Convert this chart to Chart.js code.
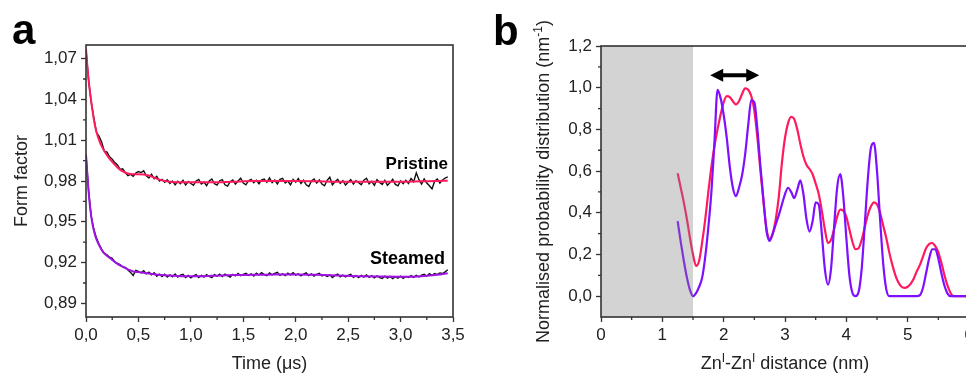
<!DOCTYPE html>
<html><head><meta charset="utf-8">
<script src="https://cdn.jsdelivr.net/npm/chart.js@4.4.1/dist/chart.umd.min.js"></script>
<style>
html,body{margin:0;padding:0;background:#fff;overflow:hidden;width:966px;height:373px;}
#wrapA{position:absolute;left:0;top:0;width:480px;height:373px;}
#wrapB{position:absolute;left:486px;top:0;width:500px;height:373px;}
canvas{display:block;}
</style></head><body>
<div id="wrapA"><canvas id="cA" width="480" height="373"></canvas></div>
<div id="wrapB"><canvas id="cB" width="500" height="373"></canvas></div>
<script>
// ---------- Panel a data ----------
const timeUs = [
0,0.025,0.05,0.075,0.1,0.125,0.15,0.175,0.2,0.225,
0.25,0.275,0.3,0.325,0.35,0.375,0.4,0.425,0.45,0.475,
0.5,0.525,0.55,0.575,0.6,0.625,0.65,0.675,0.7,0.725,
0.75,0.775,0.8,0.825,0.85,0.875,0.9,0.925,0.95,0.975,
1.0,1.025,1.05,1.075,1.1,1.125,1.15,1.175,1.2,1.225,
1.25,1.275,1.3,1.325,1.35,1.375,1.4,1.425,1.45,1.475,
1.5,1.525,1.55,1.575,1.6,1.625,1.65,1.675,1.7,1.725,
1.75,1.775,1.8,1.825,1.85,1.875,1.9,1.925,1.95,1.975,
2.0,2.025,2.05,2.075,2.1,2.125,2.15,2.175,2.2,2.225,
2.25,2.275,2.3,2.325,2.35,2.375,2.4,2.425,2.45,2.475,
2.5,2.525,2.55,2.575,2.6,2.625,2.65,2.675,2.7,2.725,
2.75,2.775,2.8,2.825,2.85,2.875,2.9,2.925,2.95,2.975,
3.0,3.025,3.05,3.075,3.1,3.125,3.15,3.175,3.2,3.225,
3.25,3.275,3.3,3.325,3.35,3.375,3.4,3.425,3.45];

const pristineData = [
1.0765,1.0540,1.0380,1.0262,1.0158,1.0128,1.0085,1.0020,1.0012,0.9978,
0.9960,0.9935,0.9918,0.9885,0.9890,0.9862,0.9840,0.9848,0.9835,0.9858,
0.9870,0.9862,0.9875,0.9838,0.9822,0.9850,0.9818,0.9835,0.9800,0.9812,
0.9790,0.9808,0.9782,0.9800,0.9772,0.9798,0.9780,0.9805,0.9770,0.9796,
0.9782,0.9768,0.9800,0.9812,0.9778,0.9792,0.9765,0.9800,0.9815,0.9780,
0.9770,0.9802,0.9810,0.9772,0.9762,0.9795,0.9808,0.9778,0.9800,0.9820,
0.9785,0.9772,0.9802,0.9812,0.9788,0.9805,0.9780,0.9808,0.9815,0.9790,
0.9822,0.9788,0.9806,0.9778,0.9812,0.9820,0.9785,0.9800,0.9772,0.9812,
0.9792,0.9818,0.9782,0.9805,0.9772,0.9760,0.9800,0.9815,0.9785,0.9808,
0.9778,0.9765,0.9805,0.9828,0.9772,0.9795,0.9812,0.9782,0.9802,0.9770,
0.9790,0.9810,0.9778,0.9802,0.9788,0.9772,0.9805,0.9820,0.9780,0.9798,
0.9768,0.9810,0.9790,0.9775,0.9805,0.9768,0.9788,0.9812,0.9775,0.9765,
0.9800,0.9780,0.9805,0.9782,0.9818,0.9795,0.9860,0.9810,0.9778,0.9815,
0.9785,0.9765,0.9742,0.9798,0.9815,0.9785,0.9808,0.9822,0.9830];

const steamedData = [
0.9995,0.9728,0.9540,0.9445,0.9380,0.9335,0.9298,0.9268,0.9258,0.9240,
0.9232,0.9205,0.9195,0.9185,0.9168,0.9165,0.9145,0.9128,0.9105,0.9142,
0.9135,0.9125,0.9140,0.9118,0.9130,0.9110,0.9125,0.9100,0.9115,0.9098,
0.9114,0.9094,0.9110,0.9096,0.9116,0.9094,0.9108,0.9114,0.9090,0.9106,
0.9088,0.9102,0.9112,0.9090,0.9106,0.9094,0.9112,0.9098,0.9090,0.9112,
0.9100,0.9115,0.9098,0.9116,0.9104,0.9094,0.9114,0.9102,0.9120,0.9104,
0.9114,0.9122,0.9106,0.9118,0.9102,0.9122,0.9108,0.9126,0.9112,0.9104,
0.9124,0.9110,0.9120,0.9128,0.9106,0.9118,0.9104,0.9122,0.9110,0.9126,
0.9108,0.9118,0.9102,0.9116,0.9124,0.9104,0.9117,0.9100,0.9114,0.9122,
0.9102,0.9110,0.9098,0.9110,0.9090,0.9106,0.9116,0.9096,0.9108,0.9094,
0.9106,0.9114,0.9092,0.9104,0.9090,0.9106,0.9094,0.9110,0.9092,0.9104,
0.9088,0.9102,0.9090,0.9084,0.9100,0.9086,0.9098,0.9082,0.9096,0.9086,
0.9100,0.9084,0.9098,0.9090,0.9104,0.9092,0.9106,0.9094,0.9108,0.9114,
0.9100,0.9118,0.9106,0.9120,0.9112,0.9124,0.9120,0.9132,0.9148];

const fitTime = [0,0.02,0.04,0.06,0.08,0.10,0.13,0.16,0.20,0.25,0.30,0.35,0.40,0.45,0.50,0.55,0.60,0.65,0.70,0.75,0.80,0.90,1.0,1.2,1.4,1.6,1.8,2.0,2.2,2.4,2.6,2.8,3.0,3.2,3.35,3.45];
const pristineFit = [1.077,1.058,1.044,1.033,1.023,1.016,1.009,1.004,0.999,0.994,0.990,0.987,0.9855,0.985,0.985,0.9848,0.984,0.9825,0.981,0.980,0.9795,0.979,0.979,0.979,0.9795,0.980,0.980,0.980,0.9798,0.9795,0.9795,0.9795,0.9795,0.9798,0.9800,0.9802];
const steamedFit = [0.9995,0.977,0.960,0.949,0.942,0.937,0.932,0.928,0.925,0.922,0.919,0.917,0.915,0.9135,0.913,0.9125,0.912,0.9115,0.911,0.9107,0.9105,0.910,0.910,0.9103,0.9108,0.911,0.9113,0.9113,0.911,0.9105,0.910,0.9097,0.9096,0.910,0.911,0.9122];

const xTicksA = [0,0.5,1.0,1.5,2.0,2.5,3.0,3.5];
const xMinorA = [0.25,0.75,1.25,1.75,2.25,2.75,3.25];
const yTicksA = [0.89,0.92,0.95,0.98,1.01,1.04,1.07];
const yMinorA = [0.905,0.935,0.965,0.995,1.025,1.055];

// ---------- Panel b data ----------
const distNm = [
1.25,1.30,1.35,1.40,1.45,1.50,1.55,1.60,1.65,1.70,
1.75,1.80,1.85,1.90,1.95,2.00,2.05,2.10,2.15,2.20,
2.25,2.30,2.35,2.40,2.45,2.50,2.55,2.60,2.65,2.70,
2.75,2.80,2.85,2.90,2.95,3.00,3.05,3.10,3.15,3.20,
3.25,3.30,3.35,3.40,3.45,3.50,3.55,3.60,3.65,3.70,
3.75,3.80,3.85,3.90,3.95,4.00,4.05,4.10,4.15,4.20,
4.25,4.30,4.35,4.40,4.45,4.50,4.55,4.60,4.65,4.70,
4.75,4.80,4.85,4.90,4.95,5.00,5.05,5.10,5.15,5.20,
5.25,5.30,5.35,5.40,5.45,5.50,5.55,5.60,5.65,5.70,
5.75,5.80,6.00];
const pristineDist = [
0.59,0.52,0.45,0.37,0.28,0.20,0.145,0.17,0.26,0.37,
0.50,0.62,0.72,0.80,0.87,0.93,0.96,0.955,0.935,0.92,
0.935,0.97,0.997,0.99,0.96,0.89,0.76,0.60,0.45,0.32,
0.275,0.30,0.37,0.48,0.64,0.76,0.83,0.86,0.85,0.80,
0.73,0.67,0.63,0.61,0.585,0.54,0.49,0.41,0.32,0.255,
0.27,0.32,0.38,0.415,0.41,0.38,0.32,0.26,0.225,0.23,
0.27,0.33,0.39,0.43,0.45,0.44,0.40,0.34,0.28,0.21,
0.15,0.10,0.065,0.045,0.04,0.045,0.06,0.085,0.12,0.15,
0.19,0.23,0.25,0.255,0.24,0.21,0.16,0.10,0.05,0.015,
0,0,0];
const steamedDist = [
0.36,0.26,0.17,0.09,0.03,0.0,0.015,0.045,0.09,0.19,
0.33,0.50,0.74,0.99,0.95,0.87,0.76,0.62,0.52,0.48,
0.52,0.58,0.68,0.82,0.94,0.93,0.80,0.62,0.46,0.31,
0.265,0.30,0.345,0.39,0.44,0.49,0.52,0.50,0.47,0.51,
0.555,0.49,0.37,0.31,0.36,0.45,0.44,0.30,0.13,0.056,
0.13,0.33,0.52,0.585,0.48,0.28,0.10,0.015,0,0.02,
0.13,0.34,0.56,0.71,0.735,0.60,0.37,0.16,0.035,0,
0,0,0,0,0,0,0,0,0,0.005,
0.04,0.11,0.18,0.225,0.225,0.18,0.11,0.05,0.012,0,
0,0,0];

const xTicksB = [0,1,2,3,4,5,6];
const xMinorB = [0.5,1.5,2.5,3.5,4.5,5.5];
const yTicksB = [0.0,0.2,0.4,0.6,0.8,1.0,1.2];
const yMinorB = [0.1,0.3,0.5,0.7,0.9,1.1];
const shadedRange = [0, 1.5];
const arrowRange = [1.78, 2.58];
const arrowLevel = 1.06;

// ---------- helpers ----------
const FONT = "'Liberation Sans', Arial, Helvetica, sans-serif";
Chart.defaults.font.family = FONT;
const INK = '#222';
const pts = (xs, ys) => xs.map((x, i) => ({x: x, y: ys[i]}));
const comma = d => v => Number(v).toFixed(d).replace('.', ',');

function axisOpts(ticksArr, min, max, dec, fixSize, isY) {
  return {
    type: 'linear', min: min, max: max,
    afterBuildTicks: s => { s.ticks = ticksArr.map(v => ({value: v})); },
    afterFit: s => { if (isY) s.width = fixSize; else s.height = fixSize; },
    ticks: { callback: comma(dec), color: INK, font: {size: 17, family: FONT}, padding: isY ? 4 : 3, maxRotation: 0, autoSkip: false },
    grid: { display: true, drawOnChartArea: false, drawTicks: true, tickLength: 5, tickColor: '#333', tickWidth: 1.3 },
    border: { display: false }
  };
}

const framePlugin = {
  id: 'frame',
  afterDraw(chart, args, opts) {
    const ctx = chart.ctx, a = chart.chartArea, xs = chart.scales.x, ys = chart.scales.y;
    ctx.save();
    ctx.strokeStyle = '#333';
    ctx.lineWidth = 1.3;
    ctx.beginPath();
    (opts.xMinor || []).forEach(v => { const p = xs.getPixelForValue(v); ctx.moveTo(p, a.bottom); ctx.lineTo(p, a.bottom + 3); });
    (opts.yMinor || []).forEach(v => { const p = ys.getPixelForValue(v); ctx.moveTo(a.left, p); ctx.lineTo(a.left - 3, p); });
    ctx.stroke();
    ctx.lineWidth = 1.6;
    ctx.strokeRect(a.left, a.top, a.right - a.left, a.bottom - a.top);
    ctx.restore();
  }
};

// ---------- Panel a ----------
const textA = {
  id: 'textA',
  afterDraw(chart) {
    const ctx = chart.ctx, xs = chart.scales.x, ys = chart.scales.y, a = chart.chartArea;
    ctx.save();
    ctx.fillStyle = '#000';
    ctx.font = 'bold 42px ' + FONT;
    ctx.textAlign = 'left'; ctx.textBaseline = 'alphabetic';
    ctx.fillText('a', 12, 44);
    ctx.fillStyle = INK;
    ctx.font = '18px ' + FONT;
    ctx.textAlign = 'center';
    ctx.fillText('Time (\u03bcs)', (a.left + a.right) / 2, 369);
    ctx.save();
    ctx.translate(27, (a.top + a.bottom) / 2);
    ctx.rotate(-Math.PI / 2);
    ctx.fillText('Form factor', 0, 0);
    ctx.restore();
    ctx.fillStyle = '#000';
    ctx.font = 'bold 17px ' + FONT;
    ctx.textAlign = 'right';
    ctx.fillText('Pristine', xs.getPixelForValue(3.452), ys.getPixelForValue(0.9886));
    ctx.font = 'bold 18px ' + FONT;
    ctx.fillText('Steamed', xs.getPixelForValue(3.424), ys.getPixelForValue(0.9187));
    ctx.restore();
  }
};

new Chart(document.getElementById('cA'), {
  type: 'scatter',
  data: {
    datasets: [
      { label: 'Pristine fit', data: pts(fitTime, pristineFit), showLine: true, borderColor: '#ff1a5e', borderWidth: 2, pointRadius: 0, cubicInterpolationMode: 'monotone', order: 0 },
      { label: 'Steamed fit', data: pts(fitTime, steamedFit), showLine: true, borderColor: '#a012e6', borderWidth: 2, pointRadius: 0, cubicInterpolationMode: 'monotone', order: 0 },
      { label: 'Pristine', data: pts(timeUs, pristineData), showLine: true, borderColor: '#111', borderWidth: 1.4, pointRadius: 0, tension: 0, order: 1 },
      { label: 'Steamed', data: pts(timeUs, steamedData), showLine: true, borderColor: '#111', borderWidth: 1.4, pointRadius: 0, tension: 0, order: 1 }
    ]
  },
  options: {
    responsive: false, animation: false, devicePixelRatio: 1,
    layout: { padding: { left: 0, top: 45, right: 27, bottom: 0 }, autoPadding: false },
    plugins: { legend: { display: false }, tooltip: { enabled: false }, frame: { xMinor: xMinorA, yMinor: yMinorA } },
    scales: {
      x: axisOpts(xTicksA, 0, 3.5, 1, 56, false),
      y: axisOpts(yTicksA, 0.88, 1.08, 2, 86, true)
    }
  },
  plugins: [framePlugin, textA]
});

// ---------- Panel b ----------
const textB = {
  id: 'textB',
  afterDatasetsDraw(chart) {
    const ctx = chart.ctx, xs = chart.scales.x, a = chart.chartArea;
    const x0 = xs.getPixelForValue(shadedRange[0]), x1 = xs.getPixelForValue(shadedRange[1]);
    ctx.save();
    ctx.fillStyle = 'rgba(128,128,128,0.35)';
    ctx.fillRect(x0, a.top, x1 - x0, a.bottom - a.top);
    ctx.restore();
  },
  afterDraw(chart) {
    const ctx = chart.ctx, xs = chart.scales.x, ys = chart.scales.y, a = chart.chartArea;
    ctx.save();
    const ax0 = xs.getPixelForValue(arrowRange[0]), ax1 = xs.getPixelForValue(arrowRange[1]), ay = ys.getPixelForValue(arrowLevel);
    ctx.fillStyle = '#000'; ctx.strokeStyle = '#000';
    ctx.lineWidth = 4;
    ctx.beginPath(); ctx.moveTo(ax0 + 8, ay); ctx.lineTo(ax1 - 8, ay); ctx.stroke();
    ctx.beginPath(); ctx.moveTo(ax0, ay); ctx.lineTo(ax0 + 13, ay - 6.5); ctx.lineTo(ax0 + 13, ay + 6.5); ctx.closePath(); ctx.fill();
    ctx.beginPath(); ctx.moveTo(ax1, ay); ctx.lineTo(ax1 - 13, ay - 6.5); ctx.lineTo(ax1 - 13, ay + 6.5); ctx.closePath(); ctx.fill();
    ctx.font = 'bold 42px ' + FONT;
    ctx.textAlign = 'left'; ctx.textBaseline = 'alphabetic';
    ctx.fillText('b', 7, 45);
    ctx.fillStyle = INK;
    const parts = [['Zn', 0], ['I', 1], ['-Zn', 0], ['I', 1], [' distance (nm)', 0]];
    drawRich(ctx, parts, (a.left + a.right) / 2, 369);
    ctx.save();
    ctx.translate(63, (a.top + a.bottom) / 2);
    ctx.rotate(-Math.PI / 2);
    drawRich(ctx, [['Normalised probability distribution (nm', 0], ['-1', 1], [')', 0]], 0, 0);
    ctx.restore();
    ctx.restore();
  }
};
function drawRich(ctx, parts, cx, baseY) {
  const big = '18px ' + FONT, small = '12px ' + FONT;
  let w = 0;
  parts.forEach(p => { ctx.font = p[1] ? small : big; w += ctx.measureText(p[0]).width; });
  let x = cx - w / 2;
  ctx.textAlign = 'left';
  parts.forEach(p => {
    ctx.font = p[1] ? small : big;
    ctx.fillText(p[0], x, p[1] ? baseY - 7 : baseY);
    x += ctx.measureText(p[0]).width;
  });
}

new Chart(document.getElementById('cB'), {
  type: 'scatter',
  data: {
    datasets: [
      { label: 'Steamed', data: pts(distNm, steamedDist), showLine: true, borderColor: '#7f0fff', borderWidth: 2.2, pointRadius: 0, cubicInterpolationMode: 'monotone', order: 0 },
      { label: 'Pristine', data: pts(distNm, pristineDist), showLine: true, borderColor: '#ff1a5e', borderWidth: 2.2, pointRadius: 0, cubicInterpolationMode: 'monotone', order: 1 }
    ]
  },
  options: {
    responsive: false, animation: false, devicePixelRatio: 1,
    layout: { padding: { left: 0, top: 46, right: 17, bottom: 0 }, autoPadding: false },
    plugins: { legend: { display: false }, tooltip: { enabled: false }, frame: { xMinor: xMinorB, yMinor: yMinorB } },
    scales: {
      x: axisOpts(xTicksB, 0, 6, 0, 56, false),
      y: axisOpts(yTicksB, -0.1, 1.2, 1, 115, true)
    }
  },
  plugins: [framePlugin, textB]
});
</script>
</body></html>
